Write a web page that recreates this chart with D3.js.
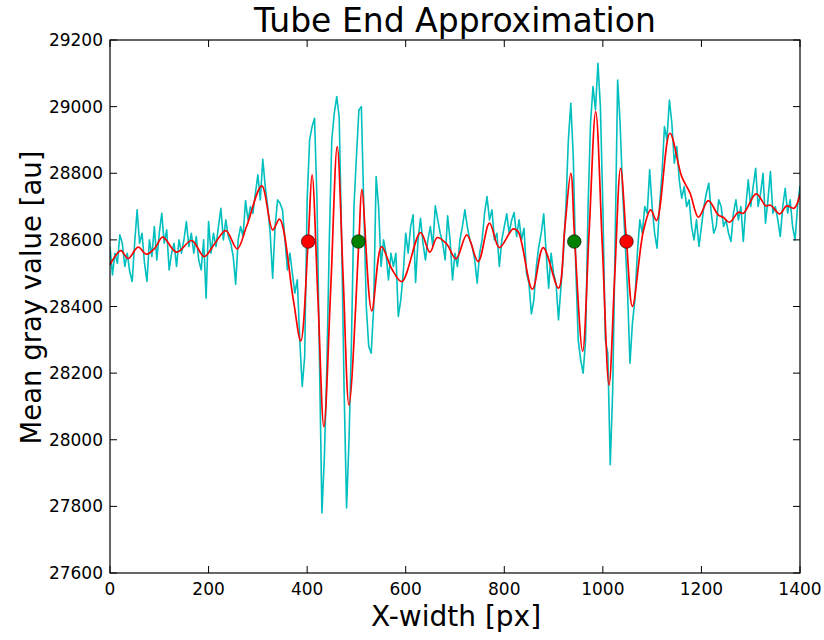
<!DOCTYPE html>
<html><head><meta charset="utf-8">
<script src="https://cdn.jsdelivr.net/npm/d3@7"></script>
<style>body{margin:0;background:#fff} text{font-family:"DejaVu Sans",sans-serif;fill:#000}</style>
</head><body><svg id="c" width="824" height="640"></svg>
<script>
// raw profile: sampled every 5 px of X-width starting at 0
const rawStart = 0, rawStep = 5;
const rawValues = [
28580,28495,28560,28530,28615,28590,28520,28560,28505,28475,
28590,28690,28590,28620,28530,28475,28600,28550,28640,28540,
28620,28680,28590,28630,28510,28560,28590,28520,28600,28560,
28600,28655,28580,28620,28560,28610,28540,28510,28600,28425,
28655,28560,28620,28580,28640,28695,28600,28660,28610,28590,
28550,28467,28600,28640,28610,28718,28660,28700,28680,28740,
28795,28720,28842,28760,28700,28620,28485,28640,28720,28710,
28690,28600,28510,28560,28500,28440,28480,28300,28160,28250,
28720,28900,28940,28965,28720,28240,27780,27950,28220,28600,
28900,28980,29030,28970,28600,28150,27795,28000,28300,28700,
28850,28990,29000,28700,28400,28280,28260,28400,28790,28700,
28520,28600,28560,28480,28560,28520,28560,28370,28420,28500,
28620,28560,28640,28675,28472,28600,28665,28590,28540,28600,
28640,28580,28702,28660,28620,28590,28540,28672,28600,28480,
28560,28520,28600,28640,28690,28640,28600,28580,28540,28470,
28560,28600,28680,28730,28660,28690,28600,28620,28520,28600,
28640,28678,28620,28660,28682,28610,28660,28600,28635,28500,
28470,28378,28420,28520,28580,28620,28678,28560,28455,28560,
28500,28470,28360,28460,28560,28700,28900,29010,28850,28520,
28300,28240,28200,28300,28700,28950,29060,28990,29130,29000,
28700,28300,28260,27925,28150,28600,29080,28950,28750,28600,
28450,28230,28350,28420,28560,28660,28620,28700,28680,28810,
28700,28620,28575,28700,28800,28940,28900,29020,28950,28830,
28880,28780,28725,28760,28700,28720,28640,28600,28660,28580,
28640,28700,28740,28770,28680,28620,28640,28720,28700,28640,
28660,28620,28595,28680,28720,28660,28700,28595,28700,28780,
28700,28760,28815,28700,28740,28800,28650,28720,28805,28680,
28700,28660,28610,28700,28755,28680,28720,28640,28600,28700,
28762
];
// smoothed profile (knots)
const smoothX = [0,10,22,37,57,74,91,107,135,166,191,213,235,258,277,308,330,344,372,387,402,410,422,434,448,461,473,485,505,511,531,551,571,592,630,649,664,683,702,724,747,770,790,818,828,857,879,910,923,935,943,959,972,985.5,999,1012.5,1024,1036,1048,1060,1082,1097,1109,1136,1160,1177,1194,1214,1234,1244,1257,1275,1285,1311,1331,1340,1359,1373,1388,1400];
const smoothY = [28525,28550,28568,28544,28578,28557,28575,28608,28563,28598,28550,28590,28628,28573,28640,28762,28630,28662,28420,28297,28595,28795,28420,28039,28460,28880,28490,28104,28595,28752,28387,28580,28515,28475,28622,28563,28607,28588,28543,28615,28535,28650,28577,28633,28625,28452,28577,28455,28640,28800,28595,28266,28620,28985,28580,28164,28490,28815,28595,28400,28625,28690,28658,28920,28790,28740,28668,28718,28675,28668,28653,28683,28680,28738,28702,28704,28678,28702,28695,28738];
// tube end markers
const redMarkX = [402, 1048];
const greenMarkX = [504, 942];
const markY = 28595;
const xTicks = [0,200,400,600,800,1000,1200,1400];
const yTicks = [27600,27800,28000,28200,28400,28600,28800,29000,29200];

const L=110, T=40, W=690, H=533;
const svg = d3.select("#c");
const x = d3.scaleLinear().domain([0,1400]).range([L, L+W]);
const y = d3.scaleLinear().domain([27600,29200]).range([T+H, T]);

svg.append("defs").append("clipPath").attr("id","clip")
  .append("rect").attr("x",L).attr("y",T).attr("width",W).attr("height",H);

const raw = rawValues.map((v,i)=>[rawStart+i*rawStep, v]);
const smooth = smoothX.map((v,i)=>[v, smoothY[i]]);

const g = svg.append("g").attr("clip-path","url(#clip)");
g.append("path").datum(raw)
  .attr("d", d3.line().x(d=>x(d[0])).y(d=>y(d[1])))
  .attr("fill","none").attr("stroke","#00bfbf").attr("stroke-width",1.6).attr("stroke-linejoin","round");
g.append("path").datum(smooth)
  .attr("d", d3.line().x(d=>x(d[0])).y(d=>y(d[1])).curve(d3.curveCatmullRom.alpha(0.5)))
  .attr("fill","none").attr("stroke","#ff0000").attr("stroke-width",1.7);

svg.selectAll("circle.r").data(redMarkX).enter().append("circle")
  .attr("cx",d=>x(d)).attr("cy",y(markY)).attr("r",6.8)
  .attr("fill","#ff0000").attr("stroke","#000").attr("stroke-width",0.6);
svg.selectAll("circle.g").data(greenMarkX).enter().append("circle")
  .attr("cx",d=>x(d)).attr("cy",y(markY)).attr("r",6.8)
  .attr("fill","#008000").attr("stroke","#000").attr("stroke-width",0.6);

// axes (ticks inward on all sides)
const tl = 7;
const ax = svg.append("g").attr("stroke","#000").attr("stroke-width",1);
xTicks.forEach(t=>{
  ax.append("line").attr("x1",x(t)).attr("x2",x(t)).attr("y1",T+H).attr("y2",T+H-tl);
  ax.append("line").attr("x1",x(t)).attr("x2",x(t)).attr("y1",T).attr("y2",T+tl);
});
yTicks.forEach(t=>{
  ax.append("line").attr("x1",L).attr("x2",L+tl).attr("y1",y(t)).attr("y2",y(t));
  ax.append("line").attr("x1",L+W).attr("x2",L+W-tl).attr("y1",y(t)).attr("y2",y(t));
});
svg.append("rect").attr("x",L).attr("y",T).attr("width",W).attr("height",H)
  .attr("fill","none").attr("stroke","#000").attr("stroke-width",1.2);

svg.selectAll("text.xt").data(xTicks).enter().append("text")
  .attr("x",d=>x(d)).attr("y",T+H+22).attr("text-anchor","middle")
  .attr("font-size",17).text(d=>d);
svg.selectAll("text.yt").data(yTicks).enter().append("text")
  .attr("x",L-7).attr("y",d=>y(d)+6).attr("text-anchor","end")
  .attr("font-size",17).text(d=>d);

svg.append("text").attr("x",455).attr("y",32).attr("text-anchor","middle")
  .attr("font-size",33).text("Tube End Approximation");
svg.append("text").attr("x",456).attr("y",626).attr("text-anchor","middle")
  .attr("font-size",28).text("X-width [px]");
svg.append("text").attr("transform",`translate(41,${T+H/2-9}) rotate(-90)`).attr("text-anchor","middle")
  .attr("font-size",27.5).text("Mean gray value [au]");
</script></body></html>
